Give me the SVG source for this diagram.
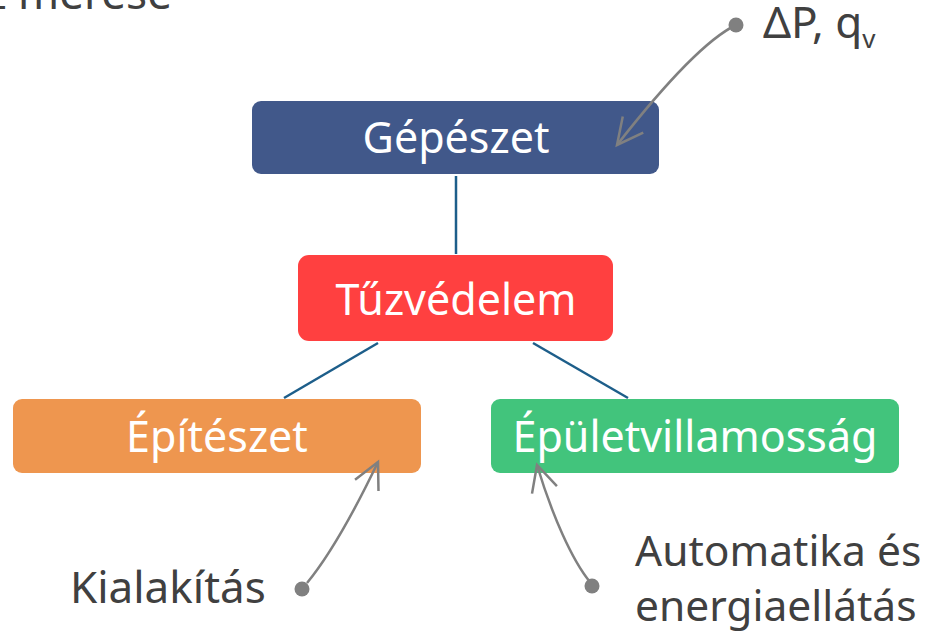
<svg xmlns="http://www.w3.org/2000/svg" width="938" height="632" viewBox="0 0 938 632">
<style>
.lbl{font-family:"Noto Sans","Open Sans",sans-serif;font-size:43px;fill:#ffffff;text-anchor:middle}
.note{font-family:"Noto Sans","Open Sans",sans-serif;font-size:44px;fill:#404040}
.note2{font-family:"Noto Sans","Open Sans",sans-serif;font-size:42.5px;fill:#404040}
.tree{stroke:#1D5E8A;stroke-width:2.5;fill:none}
.ptr{stroke:#808080;stroke-width:2.5;fill:none;marker-end:url(#arr)}
.dot{fill:#808080}
</style>
<defs>
<marker id="arr" markerUnits="userSpaceOnUse" markerWidth="40" markerHeight="40" refX="0" refY="0" viewBox="-30 -20 40 40" orient="auto" overflow="visible">
<path d="M -26 -13 L 0 0 L -26 13" fill="none" stroke="#808080" stroke-width="2.5"/>
</marker>
</defs>
<rect width="938" height="632" fill="#ffffff"/>
<text class="note" x="172" y="9" text-anchor="end">z mérése</text>
<g id="gepeszet">
<rect x="252" y="101" width="407" height="73" rx="9" fill="#41588A"/>
<text class="lbl" x="456" y="153">Gépészet</text>
</g>
<g id="tuzvedelem">
<rect x="298" y="255" width="315" height="86" rx="11" fill="#FF4040"/>
<text class="lbl" x="456" y="315">Tűzvédelem</text>
</g>
<g id="epiteszet">
<rect x="13" y="399" width="408" height="74" rx="9" fill="#EE964F"/>
<text class="lbl" x="217" y="452">Építészet</text>
</g>
<g id="epuletvillamossag">
<rect x="491" y="399" width="408" height="74" rx="9" fill="#42C47C"/>
<text class="lbl" x="695" y="452">Épületvillamosság</text>
</g>
<g id="dp">
<circle class="dot" cx="736" cy="25" r="7.5"/>
<text class="note" x="763" y="38">ΔP, q<tspan font-size="26" dy="10">v</tspan></text>
</g>
<g id="kialakitas">
<circle class="dot" cx="302" cy="589" r="7.5"/>
<text class="note" x="70" y="603">Kialakítás</text>
</g>
<g id="automatika">
<circle class="dot" cx="592" cy="586" r="7.5"/>
<text class="note2" x="635" y="566">Automatika és</text>
<text class="note2" x="635" y="621">energiaellátás</text>
</g>
<g id="connectors">
<line class="tree" x1="456" y1="176" x2="456" y2="254"/>
<line class="tree" x1="378" y1="343" x2="284" y2="398"/>
<line class="tree" x1="533" y1="343" x2="628" y2="398"/>
<path class="ptr" d="M736,25 C705,40 660,90 617,145"/>
<path class="ptr" d="M307,583 C330,555 355,510 378,462"/>
<path class="ptr" d="M590,582 C572,560 552,515 537,465"/>
</g>
</svg>
